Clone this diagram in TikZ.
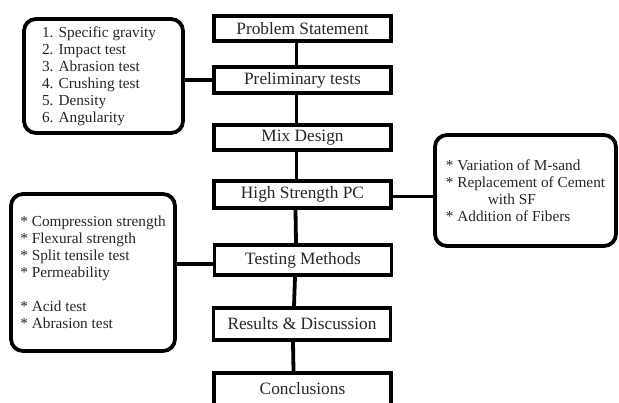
\documentclass[tikz,border=0pt]{standalone}
\usepackage{fontspec}
\setmainfont{Liberation Serif}
\begin{document}
\begin{tikzpicture}[x=1pt,y=-1pt,
  mainbox/.style={draw, line width=3.8pt, minimum width=177pt, inner sep=0pt,
    font=\fontsize{17.3}{20}\selectfont, text=black!85},
  listbox/.style={draw, line width=3.8pt, rounded corners=12pt, inner sep=0pt,
    align=left, font=\fontsize{15.3}{17}\selectfont, text=black!85},
  link/.style={line width=3.8pt}]
\useasboundingbox (0,0) rectangle (619,403);
\clip (0,0) rectangle (619,403);

\node[mainbox, minimum height=25pt] (ps) at (302.5,28.5) {Problem Statement};
\node[mainbox, minimum height=26pt] (pt) at (302.5,80) {Preliminary tests};
\node[mainbox, minimum height=25pt] (md) at (302.5,137.5) {Mix Design};
\node[mainbox, minimum height=27pt] (hs) at (302.5,194.5) {High Strength PC};
\node[mainbox, minimum height=30pt] (tm) at (303,260) {Testing Methods};
\node[mainbox, minimum height=32pt] (rd) at (302,324) {Results \& Discussion};
\node[mainbox, minimum height=32pt] (co) at (302.5,389) {Conclusions};

\node[listbox, minimum width=159pt, minimum height=114pt] (lt) at (103.5,76)
  {1. Specific gravity\hspace*{9pt}\\2. Impact test\\3. Abrasion test\\4. Crushing test\\5. Density\\6. Angularity};
\node[listbox, minimum width=164pt, minimum height=157pt] (lb) at (93,272.5)
  {* Compression strength\\* Flexural strength\\* Split tensile test\\* Permeability\\[17pt]* Acid test\\* Abrasion test};
\node[listbox, minimum width=181pt, minimum height=111pt] (rb) at (525.5,190.5)
  {* Variation of M-sand\\* Replacement of Cement\\\hspace*{42pt}with SF\\* Addition of Fibers};

\draw[link] ([xshift=-6pt]ps.south) -- ([xshift=-6pt]pt.north);
\draw[link] ([xshift=-6pt]pt.south) -- ([xshift=-6pt]md.north);
\draw[link] ([xshift=-6pt]md.south) -- ([xshift=-6pt]hs.north);
\draw[link] ([xshift=-7pt]hs.south) -- ([xshift=-7pt]tm.north);
\draw[link] ([xshift=-8pt]tm.south) -- ([xshift=-8pt]rd.north);
\draw[link] ([xshift=-9pt]rd.south) -- ([xshift=-9pt]co.north);

\draw[link] (pt.west) -- (pt.west -| lt.east);
\draw[link] ([yshift=-4pt]tm.west) -- ([yshift=-4pt]tm.west -| lb.east);
\draw[link] ([yshift=-2pt]hs.east) -- ([yshift=-2pt]hs.east -| rb.west);
\end{tikzpicture}
\end{document}
